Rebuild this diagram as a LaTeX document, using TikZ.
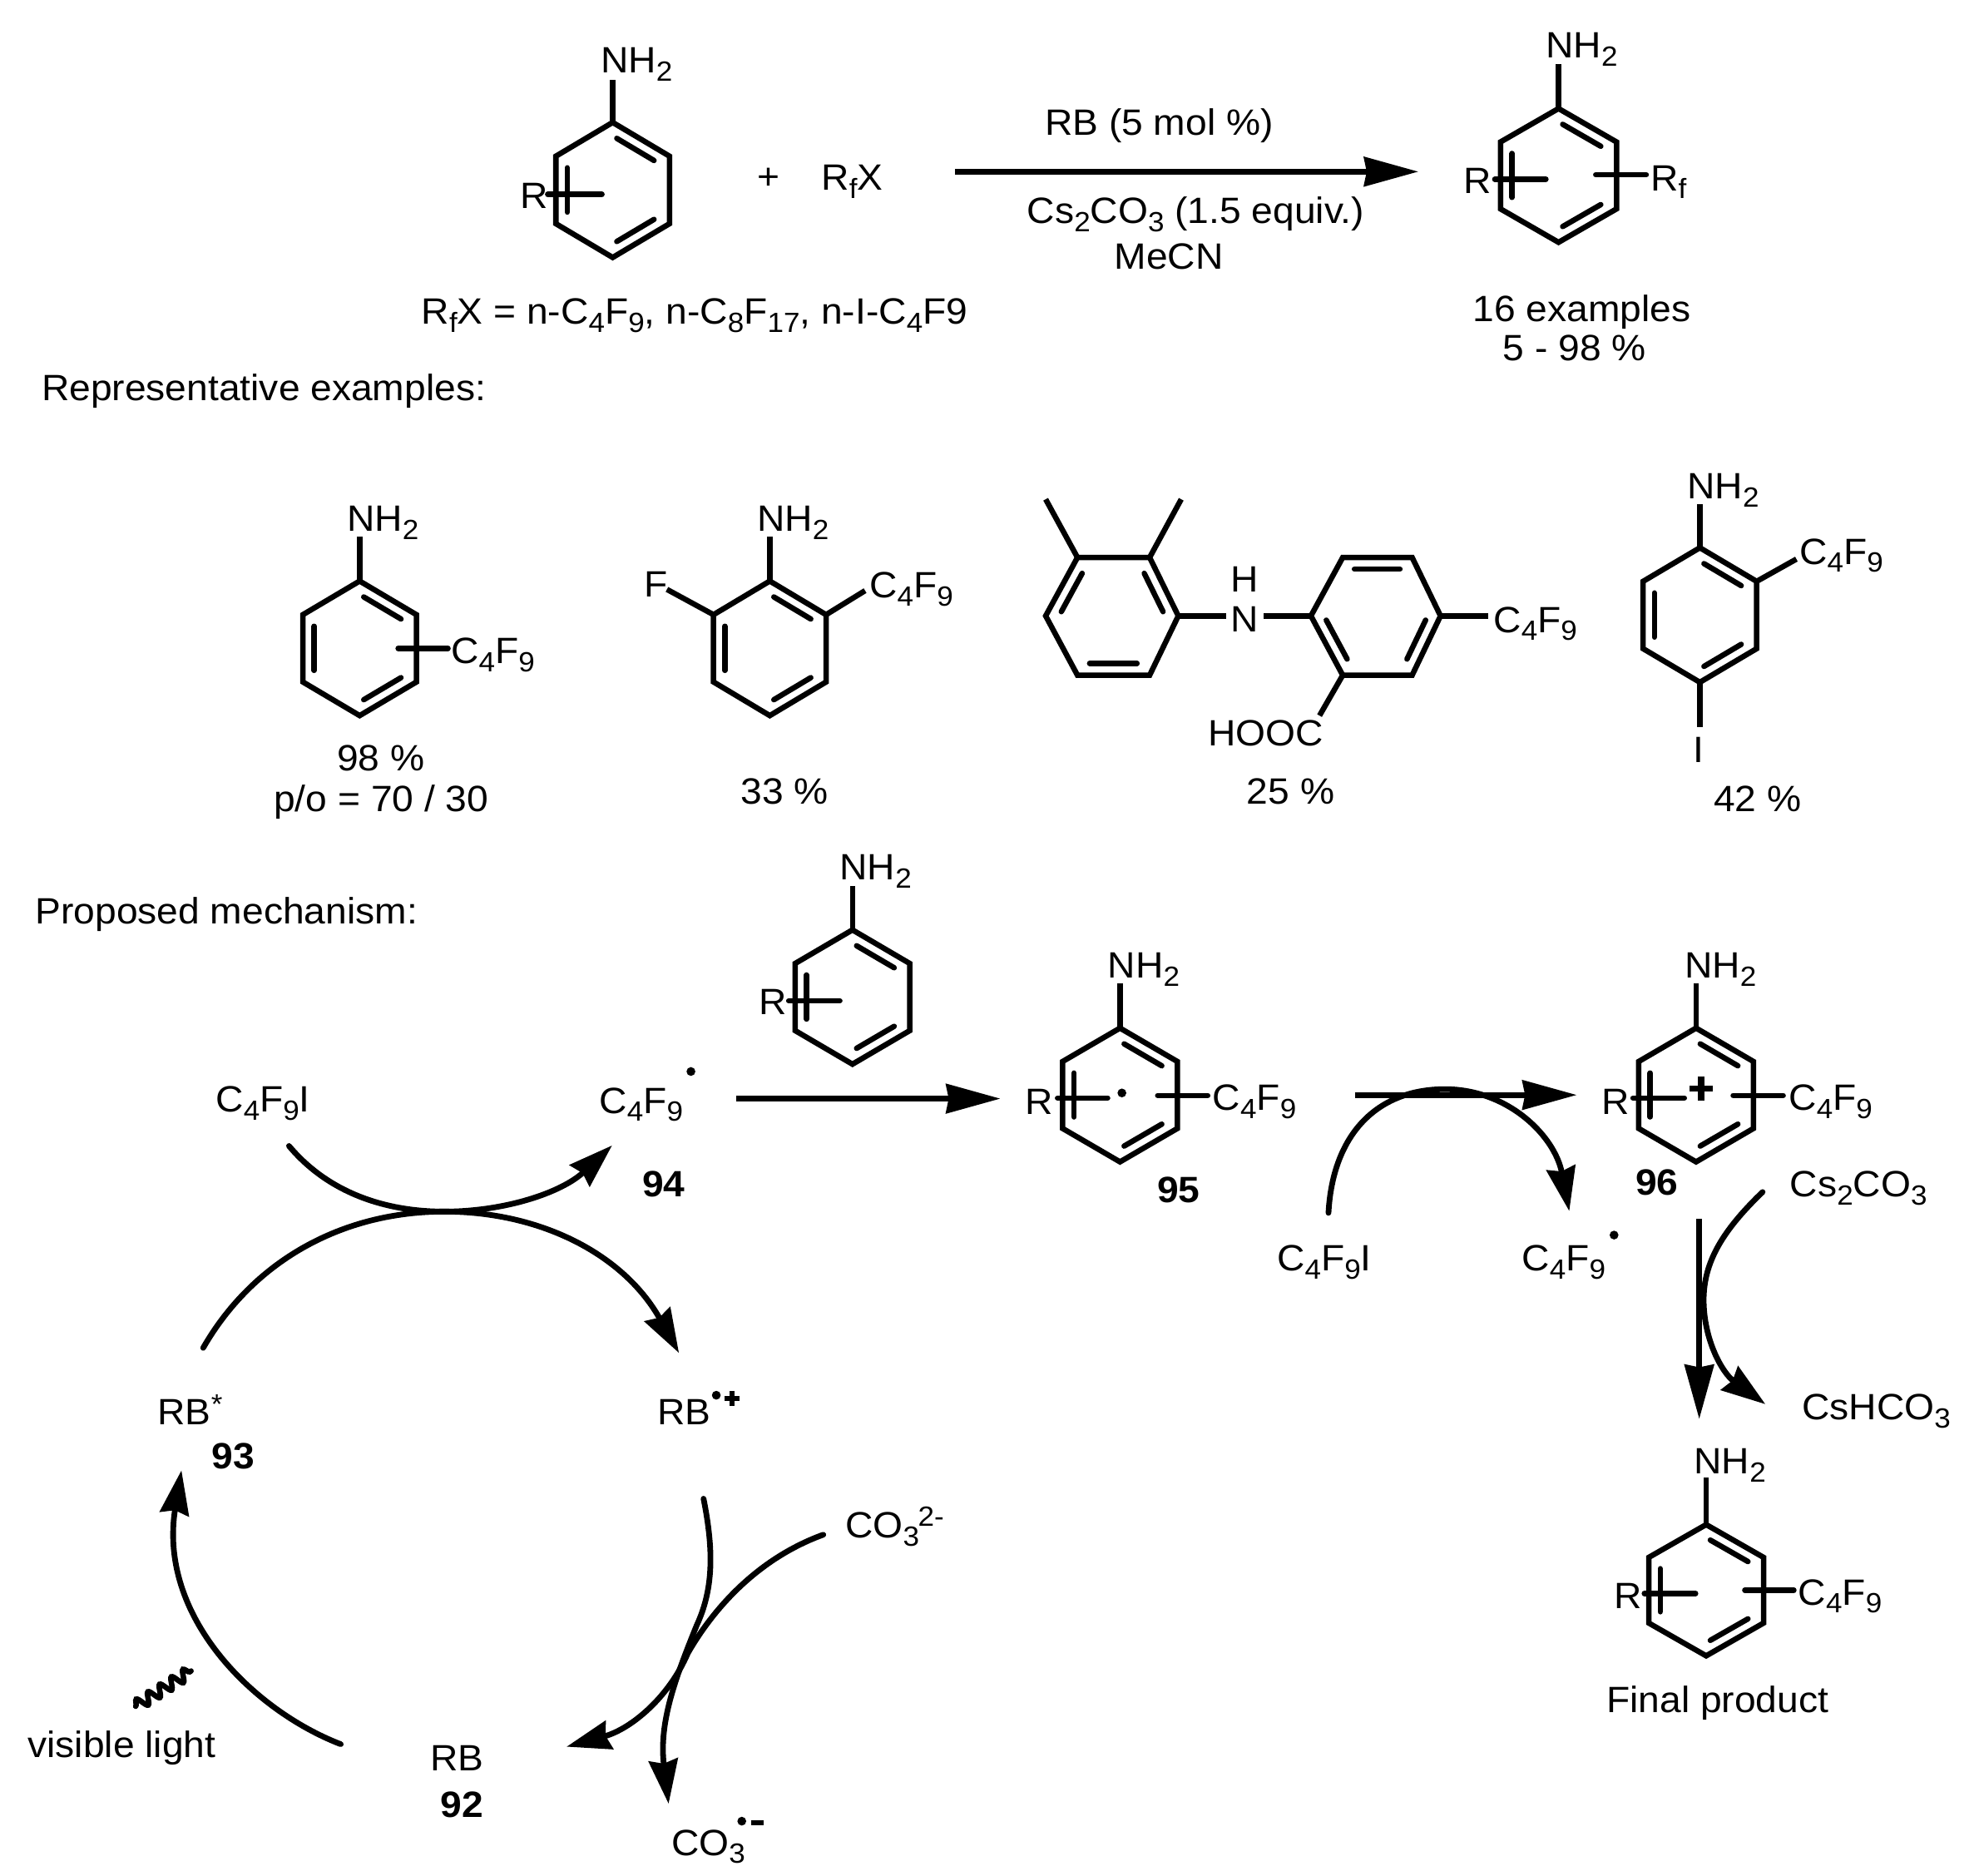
\documentclass[tikz,border=0pt]{standalone}
\usepackage{fontspec}
\setmainfont[FakeStretch=1.05]{Liberation Sans}
\usetikzlibrary{calc,arrows.meta,decorations.pathmorphing}
\newcommand\sbs[1]{\raisebox{-6.5pt}{\fontsize{22}{23}\selectfont #1}}
\newcommand\sps[1]{\raisebox{9pt}{\fontsize{22}{23}\selectfont #1}}
\newcommand\cfn{C\sbs{4}F\sbs{9}}
\newcommand\nhh{NH\sbs{2}}
\newcommand\tx[4]{\node[lbl] (#1) at (#2,#3) {#4};}
\newcommand\cc[3]{\coordinate (#1) at (#2,#3);}
\newcommand\dbl[3]{%
  \coordinate (i1) at ($(#3)!0.8!(#1)$);
  \coordinate (i2) at ($(#3)!0.8!(#2)$);
  \draw[inner] ($(i1)!0.09!(i2)$) -- ($(i2)!0.09!(i1)$);}
% name, cx, cy, half width, half height
\newcommand\benz[5]{%
  \coordinate (#1c) at (#2,#3);
  \coordinate (#1t) at (#2,#3-#5);
  \coordinate (#1b) at (#2,#3+#5);
  \coordinate (#1ur) at (#2+#4,#3-#5/2);
  \coordinate (#1lr) at (#2+#4,#3+#5/2);
  \coordinate (#1ul) at (#2-#4,#3-#5/2);
  \coordinate (#1ll) at (#2-#4,#3+#5/2);
  \draw[bond] (#1t) -- (#1ur) -- (#1lr) -- (#1b) -- (#1ll) -- (#1ul) -- cycle;
  \dbl{#1t}{#1ur}{#1c}\dbl{#1lr}{#1b}{#1c}\dbl{#1ll}{#1ul}{#1c}}
\tikzset{
  lbl/.style={anchor=base west,inner sep=0pt,outer sep=0pt,font=\fontsize{29}{31}\selectfont},
  bold/.style={font=\fontsize{29}{31}\selectfont\bfseries},
  bond/.style={line width=4.3pt,line join=miter,black},
  inner/.style={line width=4.3pt,line cap=round,black},
  subst/.style={line width=4.3pt,line cap=round,black},
  straightarrow/.style={line width=4.5pt,-{Stealth[length=43pt,width=23pt,inset=2pt]}},
  curvearrow/.style={line width=4.5pt,line cap=round,-{Stealth[length=35pt,width=23pt,inset=3pt]}},
  dotm/.style={circle,fill=black,inner sep=0pt,minimum size=7pt},
}
\begin{document}
\begin{tikzpicture}[x=1pt,y=-1pt]
\fill[white] (0,0) rectangle (1568.2,1485.8);
\useasboundingbox (0,0) rectangle (1568.2,1485.8);
% ---- top scheme
\benz{a}{485.5}{150.5}{45}{53.5}
\tx{aN}{476}{58}{\nhh}
\cc{aNe}{485.5}{63}
\draw[bond] (at) -- (aNe);
\tx{aR}{412}{165}{R}
\cc{aRa}{434}{154}\cc{aRb}{477}{154}
\draw[subst] (aRa) -- (aRb);
\tx{plus}{600}{150}{+}
\tx{rfx}{651}{150.5}{R\sbs{f}X}
\cc{m1a}{757}{136}\cc{m1b}{1124}{136}
\draw[straightarrow] (m1a) -- (m1b);
\tx{rb5}{828}{107}{RB (5 mol \%)}
\tx{cs}{814}{177}{Cs\sbs{2}CO\sbs{3} (1.5 equiv.)}
\tx{mecn}{883}{213}{MeCN}
\tx{rfxdef}{334}{257}{R\sbs{f}X = n-C\sbs{4}F\sbs{9}, n-C\sbs{8}F\sbs{17}, n-I-C\sbs{4}F9}
\benz{p}{1235}{139}{46}{53}
\tx{pN}{1225}{46}{\nhh}
\cc{pNe}{1235}{51}
\draw[bond] (pt) -- (pNe);
\tx{pR}{1160}{153.5}{R}
\cc{pRa}{1184.5}{142}\cc{pRb}{1225}{142}
\draw[subst] (pRa) -- (pRb);
\cc{pSa}{1264.5}{138.5}\cc{pSb}{1304.5}{138.5}
\draw[subst] (pSa) -- (pSb);
\tx{pRf}{1308}{151}{R\sbs{f}}
\tx{ex16}{1167}{254.5}{16 examples}
\tx{yld}{1191}{286}{5 - 98 \%}
\tx{rep}{33}{317.5}{Representative examples:}
% ---- examples
\benz{e}{285}{513.7}{45}{53.3}
\tx{eN}{275}{421}{\nhh}
\cc{eNe}{285}{425}
\draw[bond] (et) -- (eNe);
\cc{eSa}{315.5}{513.7}\cc{eSb}{355}{513.7}
\draw[subst] (eSa) -- (eSb);
\tx{eC}{357.5}{525.7}{\cfn}
\tx{e98}{267}{611}{98 \%}
\tx{epo}{217}{643}{p/o = 70 / 30}
\benz{f}{610}{513.7}{44.6}{53.3}
\tx{fN}{600}{421}{\nhh}
\cc{fNe}{610}{425}
\draw[bond] (ft) -- (fNe);
\cc{fFe}{528.5}{467}
\draw[bond] (ful) -- (fFe);
\tx{fF}{510.5}{473}{F}
\cc{fCe}{685.5}{468}
\draw[bond] (fur) -- (fCe);
\tx{fC}{689}{473.5}{\cfn}
\tx{f33}{587}{637}{33 \%}
% diarylamine
\coordinate (g1) at (853.8,441.7);\coordinate (g2) at (911,441.7);\coordinate (g3) at (933.7,488);
\coordinate (g4) at (911,535);\coordinate (g5) at (853.8,535);\coordinate (g6) at (828.6,488);\coordinate (gc) at (881.5,488);
\draw[bond] (g1)--(g2)--(g3)--(g4)--(g5)--(g6)--cycle;
\dbl{g2}{g3}{gc}\dbl{g4}{g5}{gc}\dbl{g6}{g1}{gc}
\cc{gm1}{828.6}{395.6}\cc{gm2}{936}{395.6}
\draw[bond] (g1) -- (gm1);
\draw[bond] (g2) -- (gm2);
\coordinate (h1) at (1064,441.7);\coordinate (h2) at (1119,441.7);\coordinate (h3) at (1141.5,488);
\coordinate (h4) at (1119,535);\coordinate (h5) at (1064,535);\coordinate (h6) at (1038.8,488);\coordinate (hc) at (1090.5,488);
\draw[bond] (h1)--(h2)--(h3)--(h4)--(h5)--(h6)--cycle;
\dbl{h1}{h2}{hc}\dbl{h3}{h4}{hc}\dbl{h5}{h6}{hc}
\cc{nl}{971.5}{488}\cc{nr}{1001}{488}
\draw[bond] (g3) -- (nl);
\draw[bond] (h6) -- (nr);
\node[lbl,anchor=base] (gH) at (986,469) {H};
\node[lbl,anchor=base] (gN) at (986,500.6) {N};
\cc{hCe}{1179}{488}
\draw[bond] (h3) -- (hCe);
\tx{hC}{1183.5}{501}{\cfn}
\cc{hOe}{1045.6}{567}
\draw[bond] (h5) -- (hOe);
\tx{hO}{957.5}{591}{HOOC}
\tx{g25}{988}{637}{25 \%}
\benz{d}{1347}{487.3}{45}{53.3}
\tx{dN}{1337}{395}{\nhh}
\cc{dNe}{1347}{399.5}
\draw[bond] (dt) -- (dNe);
\cc{dCe}{1423.5}{443}
\draw[bond] (dur) -- (dCe);
\tx{dC}{1426}{447}{\cfn}
\cc{dIe}{1347}{576}
\draw[bond] (db) -- (dIe);
\node[lbl,anchor=base] (dI) at (1346,604) {I};
\tx{d42}{1358}{643}{42 \%}
% ---- mechanism
\tx{prop}{28}{732}{Proposed mechanism:}
\benz{r}{675.5}{790}{45.4}{53.2}
\tx{rN}{665.5}{697}{\nhh}
\cc{rNe}{675.5}{702}
\draw[bond] (rt) -- (rNe);
\tx{rR}{601.5}{804}{R}
\cc{rRa}{625}{793}\cc{rRb}{665.5}{793}
\draw[subst] (rRa) -- (rRb);
\tx{c4i}{171}{881}{\cfn I}
\tx{c4r}{475}{882}{\cfn}
\node[dotm] (d94) at (547.5,849) {};
\node[lbl,bold] (n94) at (509,948) {94};
\cc{m2a}{583.4}{870.5}\cc{m2b}{792.8}{870.5}
\draw[straightarrow] (m2a) -- (m2b);
\benz{s}{887.5}{867.6}{45.5}{53}
\tx{sN}{878}{775}{\nhh}
\cc{sNe}{887.5}{779}
\draw[bond] (st) -- (sNe);
\tx{sR}{812.5}{882.7}{R}
\cc{sRa}{838}{870}\cc{sRb}{877.7}{870}
\draw[subst] (sRa) -- (sRb);
\node[dotm] (sdot) at (889,866) {};
\cc{sSa}{917.4}{868}\cc{sSb}{957}{868}
\draw[subst] (sSa) -- (sSb);
\tx{sC}{961}{879.5}{\cfn}
\node[lbl,bold] (n95) at (917,953) {95};
\cc{m3a}{1073.5}{867.6}\cc{m3b}{1249.5}{867.6}
\draw[straightarrow] (m3a) -- (m3b);
\benz{t}{1344}{867.6}{45.5}{53}
\tx{tN}{1335}{775}{\nhh}
\cc{tNe}{1344}{779}
\draw[bond] (tt) -- (tNe);
\tx{tR}{1269.5}{882.7}{R}
\cc{tRa}{1294}{870}\cc{tRb}{1334.7}{870}
\draw[subst] (tRa) -- (tRb);
\cc{tp1}{1339}{862.6}\cc{tp2}{1357}{862.6}\cc{tp3}{1348}{853}\cc{tp4}{1348}{872}
\draw[line width=4.8pt] (tp1) -- (tp2);
\draw[line width=4.8pt] (tp3) -- (tp4);
\cc{tSa}{1373.4}{868}\cc{tSb}{1413}{868}
\draw[subst] (tSa) -- (tSb);
\tx{tC}{1417.5}{879.5}{\cfn}
\node[lbl,bold] (n96) at (1296,947) {96};
% C4F9I -> C4F9. on right
\tx{c4i2}{1012}{1007}{\cfn I}
\tx{c4r2}{1206}{1007}{\cfn}
\node[dotm] (d2) at (1279,978.6) {};
\cc{cAa}{1052.7}{961}\cc{cAm}{1145}{863}\cc{cAb}{1243.5}{959.6}
\draw[curvearrow] (cAa) .. controls (1056,900) and (1090,863) .. (cAm) .. controls (1195,863) and (1232,900) .. (cAb);
\tx{cs2}{1418.5}{948}{Cs\sbs{2}CO\sbs{3}}
\cc{m4a}{1346.5}{966}\cc{m4b}{1346.5}{1124.4}
\draw[straightarrow] (m4a) -- (m4b);
\cc{cBa}{1396.7}{944.5}\cc{cBm}{1350}{1030}\cc{cBb}{1398.9}{1112.6}
\draw[curvearrow] (cBa) .. controls (1365,975) and (1350,1000) .. (cBm) .. controls (1350,1062) and (1365,1088) .. (cBb);
\tx{hco}{1428}{1125}{CsHCO\sbs{3}}
\benz{u}{1352}{1260}{45.5}{52}
\tx{uN}{1342.5}{1167.5}{\nhh}
\cc{uNe}{1352}{1171}
\draw[bond] (ut) -- (uNe);
\tx{uR}{1279}{1274.3}{R}
\cc{uRa}{1303}{1262.5}\cc{uRb}{1343.6}{1262.5}
\draw[subst] (uRa) -- (uRb);
\cc{uSa}{1382.6}{1260}\cc{uSb}{1421.5}{1260}
\draw[subst] (uSa) -- (uSb);
\tx{uC}{1425}{1271.6}{\cfn}
\tx{fin}{1273}{1357}{Final product}
% cycle
\cc{xAa}{229}{908}\cc{xAm}{352}{960}\cc{xAb}{485}{907.6}
\draw[curvearrow] (xAa) .. controls (260,945) and (305,960) .. (xAm) .. controls (400,960) and (445,945) .. (xAb);
\cc{xBa}{161}{1068}\cc{xBb}{538}{1072}
\draw[curvearrow] (xBa) .. controls (200,1000) and (270,960) .. (xAm) .. controls (430,960) and (495,995) .. (xBb);
\tx{rbs}{125}{1129}{RB\sps{*}}
\node[lbl,bold] (n93) at (168,1164) {93};
\tx{rbr}{521}{1129}{RB}
\node[dotm] (rdot) at (567.6,1105.5) {};
\cc{rp1}{574}{1108}\cc{rp2}{586}{1108}\cc{rp3}{580}{1102}\cc{rp4}{580}{1114}
\draw[line width=4pt] (rp1) -- (rp2);
\draw[line width=4pt] (rp3) -- (rp4);
\cc{yAa}{270}{1382}\cc{yAb}{143.8}{1165}
\draw[curvearrow] (yAa) .. controls (200,1355) and (125,1280) .. (yAb);
\cc{sqa}{107.5}{1352}\cc{sqb}{151.4}{1324}
\draw[line width=4.3pt,line cap=round,decorate,decoration={snake,segment length=11pt,amplitude=4.5pt}] (sqa) -- (sqb);
\tx{vis}{22}{1392.4}{visible light}
\tx{rb}{341}{1403}{RB}
\node[lbl,bold] (n92) at (349,1440) {92};
\cc{zAa}{557.5}{1187.5}\cc{zAm}{552}{1288}\cc{zAb}{529.8}{1429.2}
\draw[curvearrow] (zAa) .. controls (566,1230) and (565,1260) .. (zAm) .. controls (535,1330) and (522,1365) .. (zAb);
\cc{zBa}{652.4}{1216}\cc{zBm}{545}{1310}\cc{zBb}{449}{1384}
\draw[curvearrow] (zBa) .. controls (600,1235) and (565,1275) .. (zBm) .. controls (530,1345) and (500,1370) .. (zBb);
\tx{co3}{670}{1218.5}{CO\sbs{3}\hspace{-1pt}\sps{2-}}
\tx{co3r}{532}{1470}{CO\sbs{3}}
\node[dotm] (cdot) at (587.8,1443) {};
\cc{cm1}{595}{1444.5}\cc{cm2}{605}{1444.5}
\draw[line width=4pt] (cm1) -- (cm2);
\end{tikzpicture}
\end{document}
